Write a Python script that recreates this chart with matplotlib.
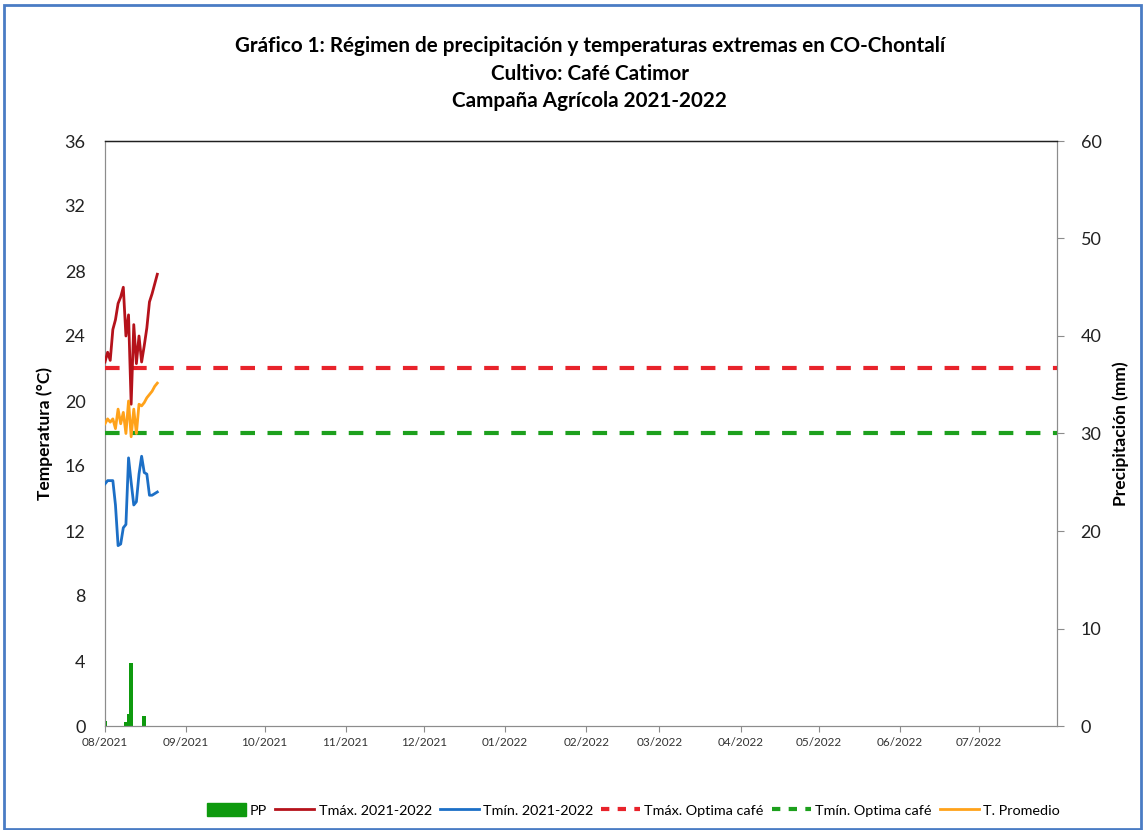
import matplotlib
matplotlib.use("Agg")
import matplotlib.pyplot as plt
import matplotlib.dates as mdates
import numpy as np
import pandas as pd
from matplotlib.patches import Rectangle, Patch
from matplotlib.lines import Line2D

# ---------------- data ----------------
start_date = "2021-08-01"
end_date = "2022-07-31"
dates = pd.date_range(start_date, periods=21, freq="D")
tmax = [22.4, 23.0, 22.5, 24.4, 25.0, 26.0, 26.4, 27.0, 24.0, 25.3, 19.8,
        24.7, 22.3, 24.0, 22.4, 23.4, 24.5, 26.1, 26.6, 27.2, 27.8]
tmin = [14.9, 15.1, 15.1, 15.1, 13.6, 11.1, 11.2, 12.2, 12.4, 16.5, 15.0,
        13.6, 13.8, 15.5, 16.6, 15.6, 15.5, 14.2, 14.2, 14.3, 14.4]
tprom = [18.6, 18.9, 18.7, 18.9, 18.3, 19.5, 18.6, 19.3, 18.0, 20.0, 17.8,
         19.5, 18.0, 19.8, 19.7, 19.9, 20.2, 20.4, 20.6, 20.9, 21.1]
pp = [0.5, 0, 0, 0, 0, 0, 0, 0, 0.4, 1.2, 6.5,
      0, 0, 0, 0, 1.0, 0, 0, 0, 0, 0]
tmax_opt = 22
tmin_opt = 18

title_lines = ["Gráfico 1: Régimen de precipitación y temperaturas extremas en CO-Chontalí",
               "Cultivo: Café Catimor",
               "Campaña Agrícola 2021-2022"]
left_label = "Temperatura (°C)"
right_label = "Precipitación (mm)"
legend_labels = ["PP", "Tmáx. 2021-2022", "Tmín. 2021-2022",
                 "Tmáx. Optima café", "Tmín. Optima café", "T. Promedio"]
temp_ticks = [0, 4, 8, 12, 16, 20, 24, 28, 32, 36]
pp_ticks = [0, 10, 20, 30, 40, 50, 60]

# ---------------- style ----------------
FONT = ["Lato", "DejaVu Sans"]
plt.rcParams["font.family"] = FONT
c_tmax = "#B5121B"
c_tmin = "#1C6FC6"
c_tprom = "#FFA21A"
c_pp = "#0E9A0E"
c_rdash = "#E8232B"
c_gdash = "#1DA01D"

fig = plt.figure(figsize=(11.45, 8.3), dpi=100)
fig.patch.set_facecolor("white")
fig.add_artist(Rectangle((4 / 1145, 1 / 830), 1137 / 1145, 824 / 830,
                         transform=fig.transFigure, fill=False,
                         edgecolor="#4A7CC4", linewidth=2))

ax = fig.add_axes([105 / 1145, 104 / 830, 952 / 1145, 585 / 830])
ax2 = ax.twinx()
ax.set_zorder(ax2.get_zorder() + 1)
ax.patch.set_visible(False)

# precipitation bars (right axis)
ax2.bar(dates, pp, width=1.5, color=c_pp, align="center", zorder=2)
ax2.set_ylim(0, 60)
ax2.set_yticks(pp_ticks)

# temperature lines
ax.plot(dates, tmax, color=c_tmax, lw=2, zorder=4)
ax.plot(dates, tmin, color=c_tmin, lw=2, zorder=4)
ax.axhline(tmax_opt, color=c_rdash, lw=3, dashes=(3.5, 3), zorder=3)
ax.axhline(tmin_opt, color=c_gdash, lw=3, dashes=(3.5, 3), zorder=3)
ax.plot(dates, tprom, color=c_tprom, lw=2, zorder=5)

ax.set_ylim(0, 36)
ax.set_yticks(temp_ticks)
ax.set_xlim(pd.Timestamp(start_date), pd.Timestamp(end_date))
ax.xaxis.set_major_locator(mdates.MonthLocator())
ax.xaxis.set_major_formatter(mdates.DateFormatter("%m/%Y"))

for s in ["left", "right", "bottom"]:
    ax.spines[s].set_color("#8C8C8C")
    ax2.spines[s].set_color("#8C8C8C")
ax.spines["top"].set_color("#202020")
ax2.spines["top"].set_color("#202020")
ax.spines["top"].set_linewidth(1.0)

ax.tick_params(axis="y", length=0, labelsize=13, pad=14, labelcolor="#222222")
ax.tick_params(axis="x", length=4, color="#8C8C8C", labelsize=8.5, pad=4,
               labelcolor="#333333")
ax2.tick_params(axis="y", length=5, color="#8C8C8C", labelsize=13, pad=12,
                labelcolor="#222222")

ax.set_ylabel(left_label, fontsize=12.5, fontweight="bold", labelpad=8)
ax2.set_ylabel(right_label, fontsize=12.5, fontweight="bold", labelpad=8)

fig.text(0.515, 0.944, title_lines[0], ha="center", va="center",
         fontsize=14.9, fontweight="bold")
fig.text(0.515, 0.911, title_lines[1], ha="center", va="center",
         fontsize=14.9, fontweight="bold")
fig.text(0.515, 0.878, title_lines[2], ha="center", va="center",
         fontsize=14.9, fontweight="bold")

handles = [Patch(facecolor=c_pp, edgecolor=c_pp),
           Line2D([], [], color=c_tmax, lw=2),
           Line2D([], [], color=c_tmin, lw=2),
           Line2D([], [], color=c_rdash, lw=3, dashes=(2, 2)),
           Line2D([], [], color=c_gdash, lw=3, dashes=(2, 2)),
           Line2D([], [], color=c_tprom, lw=2)]
fig.legend(handles, legend_labels, loc="center", bbox_to_anchor=(0.553, 0.024),
           ncol=6, frameon=False, fontsize=10.4, handlelength=2.7,
           handletextpad=0.3, columnspacing=0.55, handleheight=0.95)

fig.savefig("out.png", dpi=100)
